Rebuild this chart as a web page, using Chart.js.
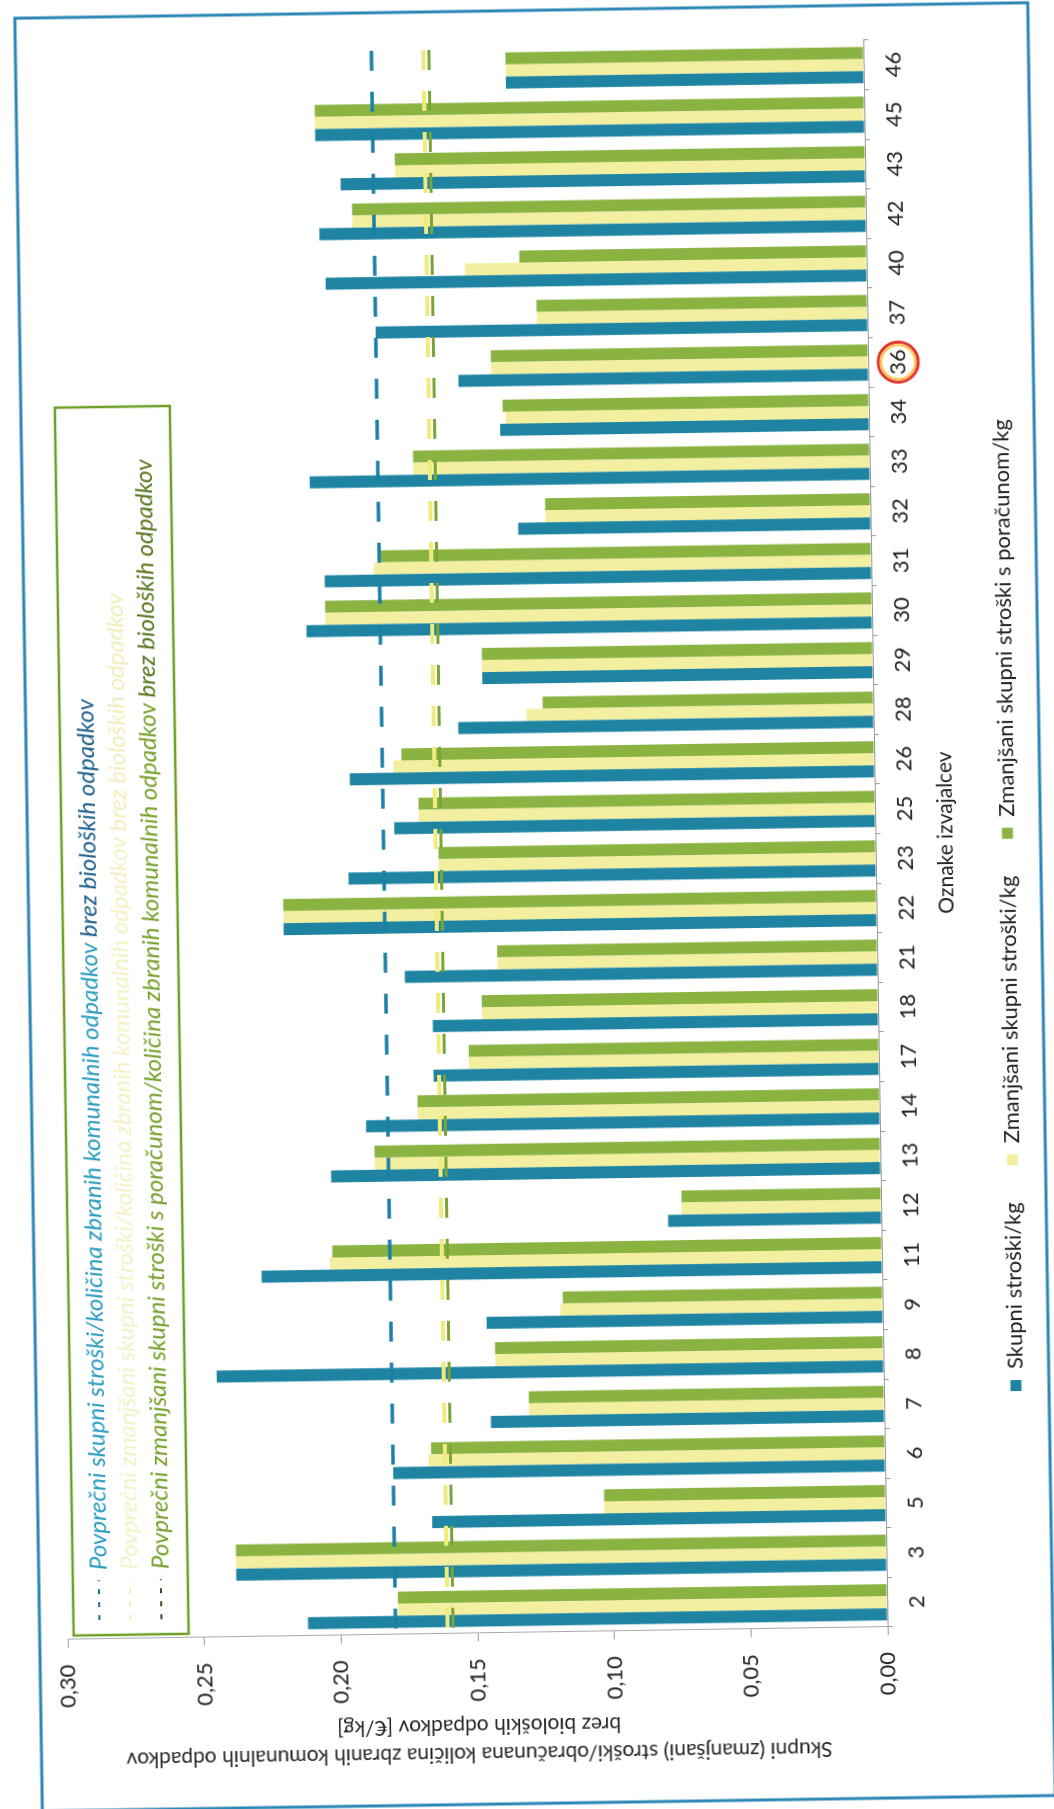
<!DOCTYPE html>
<html><head><meta charset="utf-8">
<script src="https://cdn.jsdelivr.net/npm/chart.js@4"></script>
<style>
html,body{margin:0;padding:0;background:#fff;width:1054px;height:1809px;overflow:hidden;}
#wrap{position:absolute;left:-377.5px;top:377.5px;width:1809px;height:1054px;transform:rotate(-90.88deg);transform-origin:50% 50%;}
canvas{display:block;}
</style></head><body>
<div id="wrap"><canvas id="c" width="1809" height="1054"></canvas></div>
<script>
const categories = ['2','3','5','6','7','8','9','11','12','13','14','17','18','21','22','23','25','26','28','29','30','31','32','33','34','36','37','40','42','43','45','46'];
const totalCost = [0.212,0.238,0.166,0.180,0.144,0.244,0.145,0.227,0.078,0.201,0.188,0.163,0.163,0.173,0.217,0.193,0.176,0.192,0.152,0.143,0.207,0.200,0.129,0.205,0.135,0.150,0.180,0.198,0.200,0.192,0.201,0.131];
const reducedCost = [0.179,0.238,0.103,0.167,0.130,0.142,0.118,0.202,0.073,0.185,0.169,0.150,0.145,0.139,0.217,0.160,0.167,0.176,0.127,0.143,0.200,0.182,0.119,0.167,0.133,0.138,0.121,0.147,0.188,0.172,0.201,0.131];
const adjustedCost = [0.179,0.238,0.103,0.166,0.130,0.142,0.117,0.201,0.073,0.185,0.169,0.150,0.145,0.139,0.217,0.160,0.167,0.173,0.121,0.143,0.200,0.180,0.119,0.167,0.134,0.138,0.121,0.127,0.188,0.172,0.201,0.131];
const averageValues = [0.180, 0.161, 0.159];
const seriesNames = ['Skupni stroški/kg','Zmanjšani skupni stroški/kg','Zmanjšani skupni stroški s poračunom/kg'];
const yTitleLines = ['Skupni (zmanjšani) stroški/obračunana količina zbranih komunalnih odpadkov','brez bioloških odpadkov [€/kg]'];
const xTitle = 'Oznake izvajalcev';
const boxLines = [
  ['Povprečni skupni stroški/količina zbranih komunalnih odpadkov ','brez bioloških odpadkov'],
  ['Povprečni zmanjšani skupni stroški/količina zbranih komunalnih odpadkov ','brez bioloških odpadkov'],
  ['Povprečni zmanjšani skupni stroški s poračunom/količina zbranih komunalnih odpadkov ','brez bioloških odpadkov']
];
const markedCategory = '36';

const FONT = 'Lato, "Open Sans", sans-serif';
const TEAL = '#1f84a2', YELLOW = '#f3efa0', GREEN = '#8ab342';

const decor = {
  id: 'decor',
  beforeDraw(chart) {
    const c = chart.ctx;
    c.save();
    c.fillStyle = '#fff'; c.fillRect(0, 0, chart.width, chart.height);
    c.strokeStyle = '#2a86b4'; c.lineWidth = 3;
    c.strokeRect(6, 28, 1793, 1013);
    c.restore();
  },
  afterDatasetsDraw(chart) {
    const c = chart.ctx, y = chart.scales.y, a = chart.chartArea;
    const specs = [[averageValues[0], '#1a7fa6', 3.5], [averageValues[1], '#efeb7c', 4], [averageValues[2], '#7aa436', 3]];
    c.save();
    specs.forEach(([val, col, w]) => {
      const py = y.getPixelForValue(val);
      c.setLineDash([20, 21]); c.strokeStyle = col; c.lineWidth = w;
      c.beginPath(); c.moveTo(a.left + 6, py); c.lineTo(a.right + 5, py); c.stroke();
    });
    c.restore();
  },
  afterDraw(chart) {
    const c = chart.ctx, x = chart.scales.x;
    c.save();
    // inner explanation box
    c.fillStyle = '#fff'; c.fillRect(181, 62, 1228, 115);
    c.strokeStyle = '#6f9e25'; c.lineWidth = 2.5; c.strokeRect(181, 62, 1228, 115);
    const rows = [[88, '#2b9cc0', '#1d5f8c', '#1d6f96'], [119, '#f4f1c4', '#f1eebb', '#f1eebb'], [150, '#76a02a', '#56761a', '#3d4a20']];
    c.font = 'italic 24px ' + FONT; c.textBaseline = 'middle'; c.textAlign = 'left';
    rows.forEach(([vy, col1, col2, dashCol], i) => {
      c.setLineDash([5, 8]); c.strokeStyle = dashCol; c.lineWidth = 2;
      c.beginPath(); c.moveTo(196, vy); c.lineTo(236, vy); c.stroke();
      c.setLineDash([]);
      c.fillStyle = col1; c.fillText(boxLines[i][0], 246, vy);
      const w = c.measureText(boxLines[i][0]).width;
      c.fillStyle = col2; c.fillText(boxLines[i][1], 246 + w, vy);
    });
    // marked category circle
    const cx = x.getPixelForValue(categories.indexOf(markedCategory));
    const cy = 906;
    c.beginPath(); c.arc(cx, cy, 20, 0, Math.PI * 2); c.strokeStyle = '#e4352f'; c.lineWidth = 3; c.stroke();
    c.beginPath(); c.arc(cx, cy, 17, 0, Math.PI * 2); c.strokeStyle = '#f7c640'; c.lineWidth = 2; c.stroke();
    c.restore();
  }
};

new Chart(document.getElementById('c').getContext('2d'), {
  type: 'bar',
  data: {
    labels: categories,
    datasets: [
      { label: seriesNames[0], data: totalCost, backgroundColor: TEAL },
      { label: seriesNames[1], data: reducedCost, backgroundColor: YELLOW },
      { label: seriesNames[2], data: adjustedCost, backgroundColor: GREEN }
    ]
  },
  options: {
    responsive: false, animation: false, devicePixelRatio: 1,
    layout: { padding: { left: 30, right: 45, top: 56, bottom: 25 } },
    datasets: { bar: { categoryPercentage: 0.73, barPercentage: 1.0 } },
    plugins: {
      legend: { position: 'bottom', labels: { font: { family: FONT, size: 22 }, color: '#222', boxWidth: 11, boxHeight: 11, padding: 37 } },
      tooltip: { enabled: false }
    },
    scales: {
      x: {
        grid: { drawOnChartArea: false, tickLength: 5, color: '#999' },
        border: { color: '#999' },
        ticks: { autoSkip: false, maxRotation: 0, font: { family: FONT, size: 22 }, color: '#222', padding: 12 },
        title: { display: true, text: xTitle, font: { family: FONT, size: 21 }, color: '#222', padding: { top: 0, bottom: 1 } },
        afterFit(s) { s.height = 84; }
      },
      y: {
        min: 0, max: 0.30,
        ticks: { stepSize: 0.05, callback: v => Number(v).toFixed(2).replace('.', ','), font: { family: FONT, size: 22 }, color: '#222', padding: 17 },
        grid: { drawOnChartArea: false, tickLength: 8, color: '#999' },
        border: { color: '#aaa', dash: [3, 2] },
        title: { display: true, text: yTitleLines, font: { family: FONT, size: 21, lineHeight: 1.3 }, color: '#222', padding: { top: 13, bottom: 0 } },
        afterFit(s) { s.width = 147; }
      }
    }
  },
  plugins: [decor]
});
</script>
</body></html>
